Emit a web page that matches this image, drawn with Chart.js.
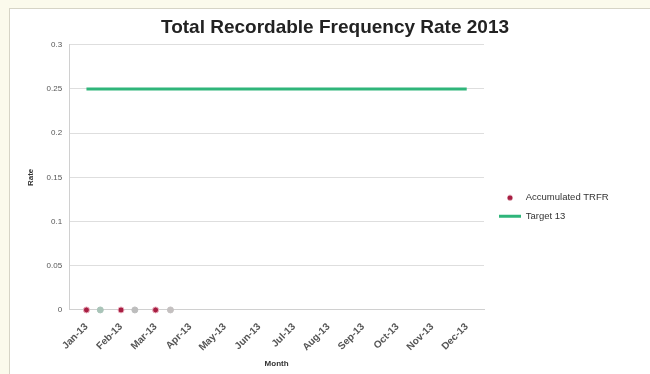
<!DOCTYPE html>
<html>
<head>
<meta charset="utf-8">
<script src="https://cdn.jsdelivr.net/npm/chart.js@4/dist/chart.umd.min.js"></script>
<style>
  html, body { margin: 0; padding: 0; background: #fbfaec; }
  #frame {
    position: absolute; left: 9px; top: 8px; width: 650px; height: 380px;
    background: #fff; border: 1px solid #d6d4c6; box-sizing: border-box;
  }
  #wrap { position: absolute; left: 0; top: 0; width: 650px; height: 374px; }
</style>
</head>
<body>
<div id="frame"></div>
<div id="wrap"><canvas id="chart" width="650" height="374"></canvas></div>
<script>
// Chart data
const months = ['Jan-13', 'Feb-13', 'Mar-13', 'Apr-13', 'May-13', 'Jun-13',
                'Jul-13', 'Aug-13', 'Sep-13', 'Oct-13', 'Nov-13', 'Dec-13'];
const accumulatedTRFR = [0, 0, 0];
const target13 = [0.25, 0.25, 0.25, 0.25, 0.25, 0.25, 0.25, 0.25, 0.25, 0.25, 0.25, 0.25];
// faint markers sitting between the months on the zero line
const extraX = [0.4, 1.4, 2.43];
const extraY = [0, 0, 0];
const extraColors = ['#a9c4b8', '#bdbdbd', '#c4c0c0'];
const rateTicks = [0, 0.05, 0.1, 0.15, 0.2, 0.25, 0.3];

const font = "'Liberation Sans', Arial, sans-serif";
const trfrColor = '#a81e42';

// legend marker for the dots: a small circle in a box as wide as the line marker
const dotMarker = document.createElement('canvas');
dotMarker.width = 22;
dotMarker.height = 8;
(function() {
    const c = dotMarker.getContext('2d');
    c.fillStyle = trfrColor;
    c.beginPath();
    c.arc(11, 4, 2.6, 0, Math.PI * 2);
    c.fill();
})();

// legend column: wider than its text, items nudged right a bit
const legendBox = {
    id: 'legendBox',
    afterInit(chart) {
        const lg = chart.legend;
        const fit = lg.fit.bind(lg);
        const draw = lg.draw.bind(lg);
        lg.fit = function() {
            fit();
            this.width = 164;
        };
        lg.draw = function() {
            this.ctx.save();
            this.ctx.translate(6, 0);
            draw();
            this.ctx.restore();
        };
    }
};

new Chart(document.getElementById('chart'), {
    type: 'line',
    data: {
        datasets: [{
            label: 'Accumulated TRFR',
            data: accumulatedTRFR.map((v, i) => ({ x: i, y: v })),
            showLine: false,
            clip: false,
            pointStyle: 'circle',
            pointRadius: 3,
            backgroundColor: trfrColor,
            borderColor: trfrColor,
            pointBorderColor: '#eab0bf',
            pointBorderWidth: 1
        }, {
            label: 'Target 13',
            data: target13.map((v, i) => ({ x: i, y: v })),
            borderColor: '#2fb57a',
            backgroundColor: '#2fb57a',
            borderWidth: 3,
            pointRadius: 0,
            pointStyle: 'line'
        }, {
            label: '',
            data: extraX.map((x, i) => ({ x: x, y: extraY[i] })),
            showLine: false,
            clip: false,
            pointRadius: 3,
            backgroundColor: extraColors,
            borderColor: extraColors
        }]
    },
    options: {
        responsive: false,
        animation: false,
        layout: { padding: { left: 22, right: 2, top: 8, bottom: 5 } },
        plugins: {
            title: {
                display: true,
                text: 'Total Recordable Frequency Rate 2013',
                color: '#222',
                font: { family: font, size: 19, weight: 'bold' },
                padding: { top: 8, bottom: 6 }
            },
            legend: {
                position: 'right',
                title: {
                    display: true,
                    text: ' ',
                    font: { family: font, size: 10 },
                    padding: { top: 25, bottom: 0 }
                },
                labels: {
                    color: '#333',
                    font: { family: font, size: 9.5 },
                    usePointStyle: true,
                    pointStyleWidth: 22,
                    boxHeight: 4,
                    padding: 9,
                    filter: item => item.text !== '',
                    generateLabels: chart => {
                        const items = Chart.defaults.plugins.legend.labels.generateLabels(chart);
                        items[0].pointStyle = dotMarker;
                        return items;
                    }
                }
            },
            tooltip: { enabled: false }
        },
        scales: {
            x: {
                type: 'linear',
                min: -0.5,
                max: 11.5,
                afterBuildTicks: axis => {
                    axis.ticks = months.map((m, i) => ({ value: i }));
                },
                ticks: {
                    autoSkip: false,
                    maxRotation: 45,
                    minRotation: 45,
                    padding: 3,
                    color: '#555',
                    font: { family: font, size: 10, weight: 'bold' },
                    callback: v => months[v]
                },
                grid: { display: false },
                border: { color: '#d0d0d0' },
                title: {
                    display: true,
                    text: 'Month',
                    color: '#333',
                    font: { family: font, size: 8, weight: 'bold' },
                    padding: { top: 3, bottom: 0 }
                }
            },
            y: {
                min: 0,
                max: 0.3,
                afterBuildTicks: axis => {
                    axis.ticks = rateTicks.map(v => ({ value: v }));
                },
                ticks: {
                    color: '#555',
                    font: { family: font, size: 8 },
                    padding: 7,
                    callback: v => String(Math.round(v * 100) / 100)
                },
                grid: { color: '#dedede', drawTicks: false },
                border: { color: '#d0d0d0' },
                title: {
                    display: true,
                    text: 'Rate',
                    color: '#333',
                    font: { family: font, size: 8, weight: 'bold' }
                }
            }
        }
    },
    plugins: [legendBox]
});
</script>
</body>
</html>
